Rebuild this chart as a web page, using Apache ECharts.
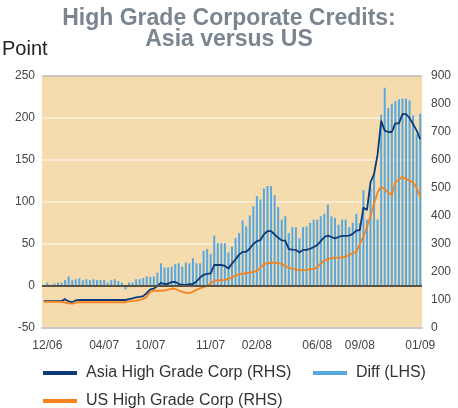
<!DOCTYPE html>
<html>
<head>
<meta charset="utf-8">
<script src="https://cdn.jsdelivr.net/npm/echarts@6/dist/echarts.min.js"></script>
<style>
  html, body { margin: 0; padding: 0; background: #fff; }
  #chart { width: 458px; height: 408px; }
</style>
</head>
<body>
<div id="chart"></div>
<script>
// weekly points, 12/06 .. 01/09
const tickPos = [1, 17, 30, 47, 60, 77, 89, 106]
const tickLabels = ['12/06', '04/07', '10/07', '11/07', '02/08', '06/08', '09/08', '01/09']

// Diff (LHS), points
const diff = [null,
  4, 1.5, 3, 4, 4, 7, 11.5, 7, 8, 9,
  7, 8, 7, 8, 7, 7, 7, 4, 7, 8,
  6, 4, -4, 4, 4, 8, 8, 9.5, 11.5, 10.7,
  11.5, 16, 27, 22, 22, 23, 26, 27, 23, 28,
  27, 33, 27, 27, 42, 44, 38, 60, 51, 51,
  51, 40, 47, 57, 63, 78, 71, 84, 95, 107,
  103, 116, 119, 119, 108, 94, 79, 83, 63, 70,
  70, 57, 70, 71, 75, 79, 79, 83, 86, 97,
  83, 81, 73, 79, 79, 70, 75, 86, 75, 114,
  79, 117, 135, 79, 204, 236, 212, 217, 220, 222,
  223, 223, 221, 203, 180, 205]

// Asia High Grade Corp (RHS)
const asia = [
  96, 96, 96, 96, 96, 96, 103, 95, 92, 99,
  100, 100, 100, 100, 100, 100, 100, 100, 100, 100,
  100, 100, 100, 100, 103, 106, 109, 111, 114, 125,
  138, 141, 150, 161, 157, 158, 164, 165, 157, 155,
  154, 157, 157, 166, 180, 190, 193, 195, 225, 225,
  225, 222, 212, 230, 245, 262, 272, 272, 284, 300,
  310, 314, 335, 346, 346, 334, 322, 313, 312, 282,
  280, 279, 270, 279, 279, 283, 289, 296, 310, 325,
  330, 325, 320, 325, 329, 329, 330, 336, 348, 350,
  430, 421, 520, 550, 620, 740, 705, 700, 700, 731,
  731, 764, 764, 750, 728, 705, 674]

// US High Grade Corp (RHS)
const us = [
  93, 93, 93, 93, 93, 93, 91, 88, 87, 91,
  92, 92, 92, 92, 92, 92, 92, 92, 92, 92,
  92, 92, 92, 92, 95, 97, 98, 100, 104, 112,
  130, 133, 133, 133, 134, 137, 141, 140, 134, 129,
  126, 124, 130, 136, 142, 146, 150, 160, 168, 171,
  171, 172, 175, 181, 187, 192, 194, 196, 198, 200,
  204, 215, 228, 232, 233, 233, 232, 229, 221, 216,
  212, 209, 207, 207, 207, 210, 210, 218, 231, 240,
  246, 250, 251, 251, 251, 255, 261, 267, 272, 300,
  326, 360, 400, 445, 485, 505, 495, 485, 475, 520,
  530, 540, 532, 527, 520, 500, 469]

const weeks = asia.map((v, i) => 'w' + i)

const font = 'Liberation Sans, Arial, sans-serif'
const chart = echarts.init(document.getElementById('chart'))

chart.setOption({
  animation: false,
  textStyle: { fontFamily: font },
  title: {
    text: 'High Grade Corporate Credits:\nAsia versus US',
    left: 'center',
    top: 3,
    textStyle: { fontSize: 23, fontWeight: 'bold', color: '#7b858f', lineHeight: 21, fontFamily: font }
  },
  graphic: [{
    type: 'text', left: 2, top: 39,
    style: { text: 'Point', fontSize: 20, fill: '#222', fontFamily: font }
  }],
  legend: [
    { data: ['Asia High Grade Corp (RHS)'], left: 43, top: 365 },
    { data: ['Diff (LHS)'], left: 313, top: 365 },
    { data: ['US High Grade Corp (RHS)'], left: 43, top: 393 }
  ].map(l => Object.assign(l, {
    icon: 'rect', itemWidth: 34, itemHeight: 4, padding: 0,
    textStyle: { fontSize: 16, color: '#333', padding: [0, 0, 0, 4], fontFamily: font }
  })),
  grid: {
    left: 42, right: 36, top: 76, bottom: 80,
    show: true, backgroundColor: '#f5dcaf', borderWidth: 0
  },
  xAxis: {
    type: 'category',
    data: weeks,
    axisLine: { onZero: false, lineStyle: { color: '#cdc9c2', width: 2 } },
    axisTick: { show: false },
    axisLabel: {
      interval: 0, margin: 12, fontSize: 12, color: '#444',
      formatter: (v, i) => {
        const k = tickPos.indexOf(i)
        return k >= 0 ? tickLabels[k] : ''
      }
    }
  },
  yAxis: [
    {
      type: 'value', min: -50, max: 250, interval: 50,
      axisLine: { show: false }, axisTick: { show: false },
      axisLabel: { fontSize: 12, color: '#444', margin: 7 },
      splitLine: { lineStyle: { width: 1.5, color: ['transparent', 'transparent', '#fcf1de', '#fcf1de', '#fcf1de', '#fcf1de', '#bdbab4'] } }
    },
    {
      type: 'value', min: 0, max: 900, interval: 100,
      axisLine: { show: false }, axisTick: { show: false },
      axisLabel: { fontSize: 12, color: '#444', margin: 9 },
      splitLine: { show: false }
    }
  ],
  series: [
    {
      name: 'Diff (LHS)', type: 'bar', yAxisIndex: 0,
      data: diff, barWidth: 2,
      itemStyle: { color: '#58a8e0' },
      markLine: {
        silent: true, symbol: 'none', label: { show: false },
        lineStyle: { color: '#5a5145', width: 2, type: 'solid' },
        data: [{ yAxis: 0 }]
      }
    },
    {
      name: 'Asia High Grade Corp (RHS)', type: 'line', yAxisIndex: 1,
      data: asia, showSymbol: false,
      lineStyle: { color: '#0b3a78', width: 1.8 },
      itemStyle: { color: '#0b3a78' }
    },
    {
      name: 'US High Grade Corp (RHS)', type: 'line', yAxisIndex: 1,
      data: us, showSymbol: false,
      lineStyle: { color: '#f5821f', width: 1.8 },
      itemStyle: { color: '#f5821f' }
    }
  ]
})
</script>
</body>
</html>
